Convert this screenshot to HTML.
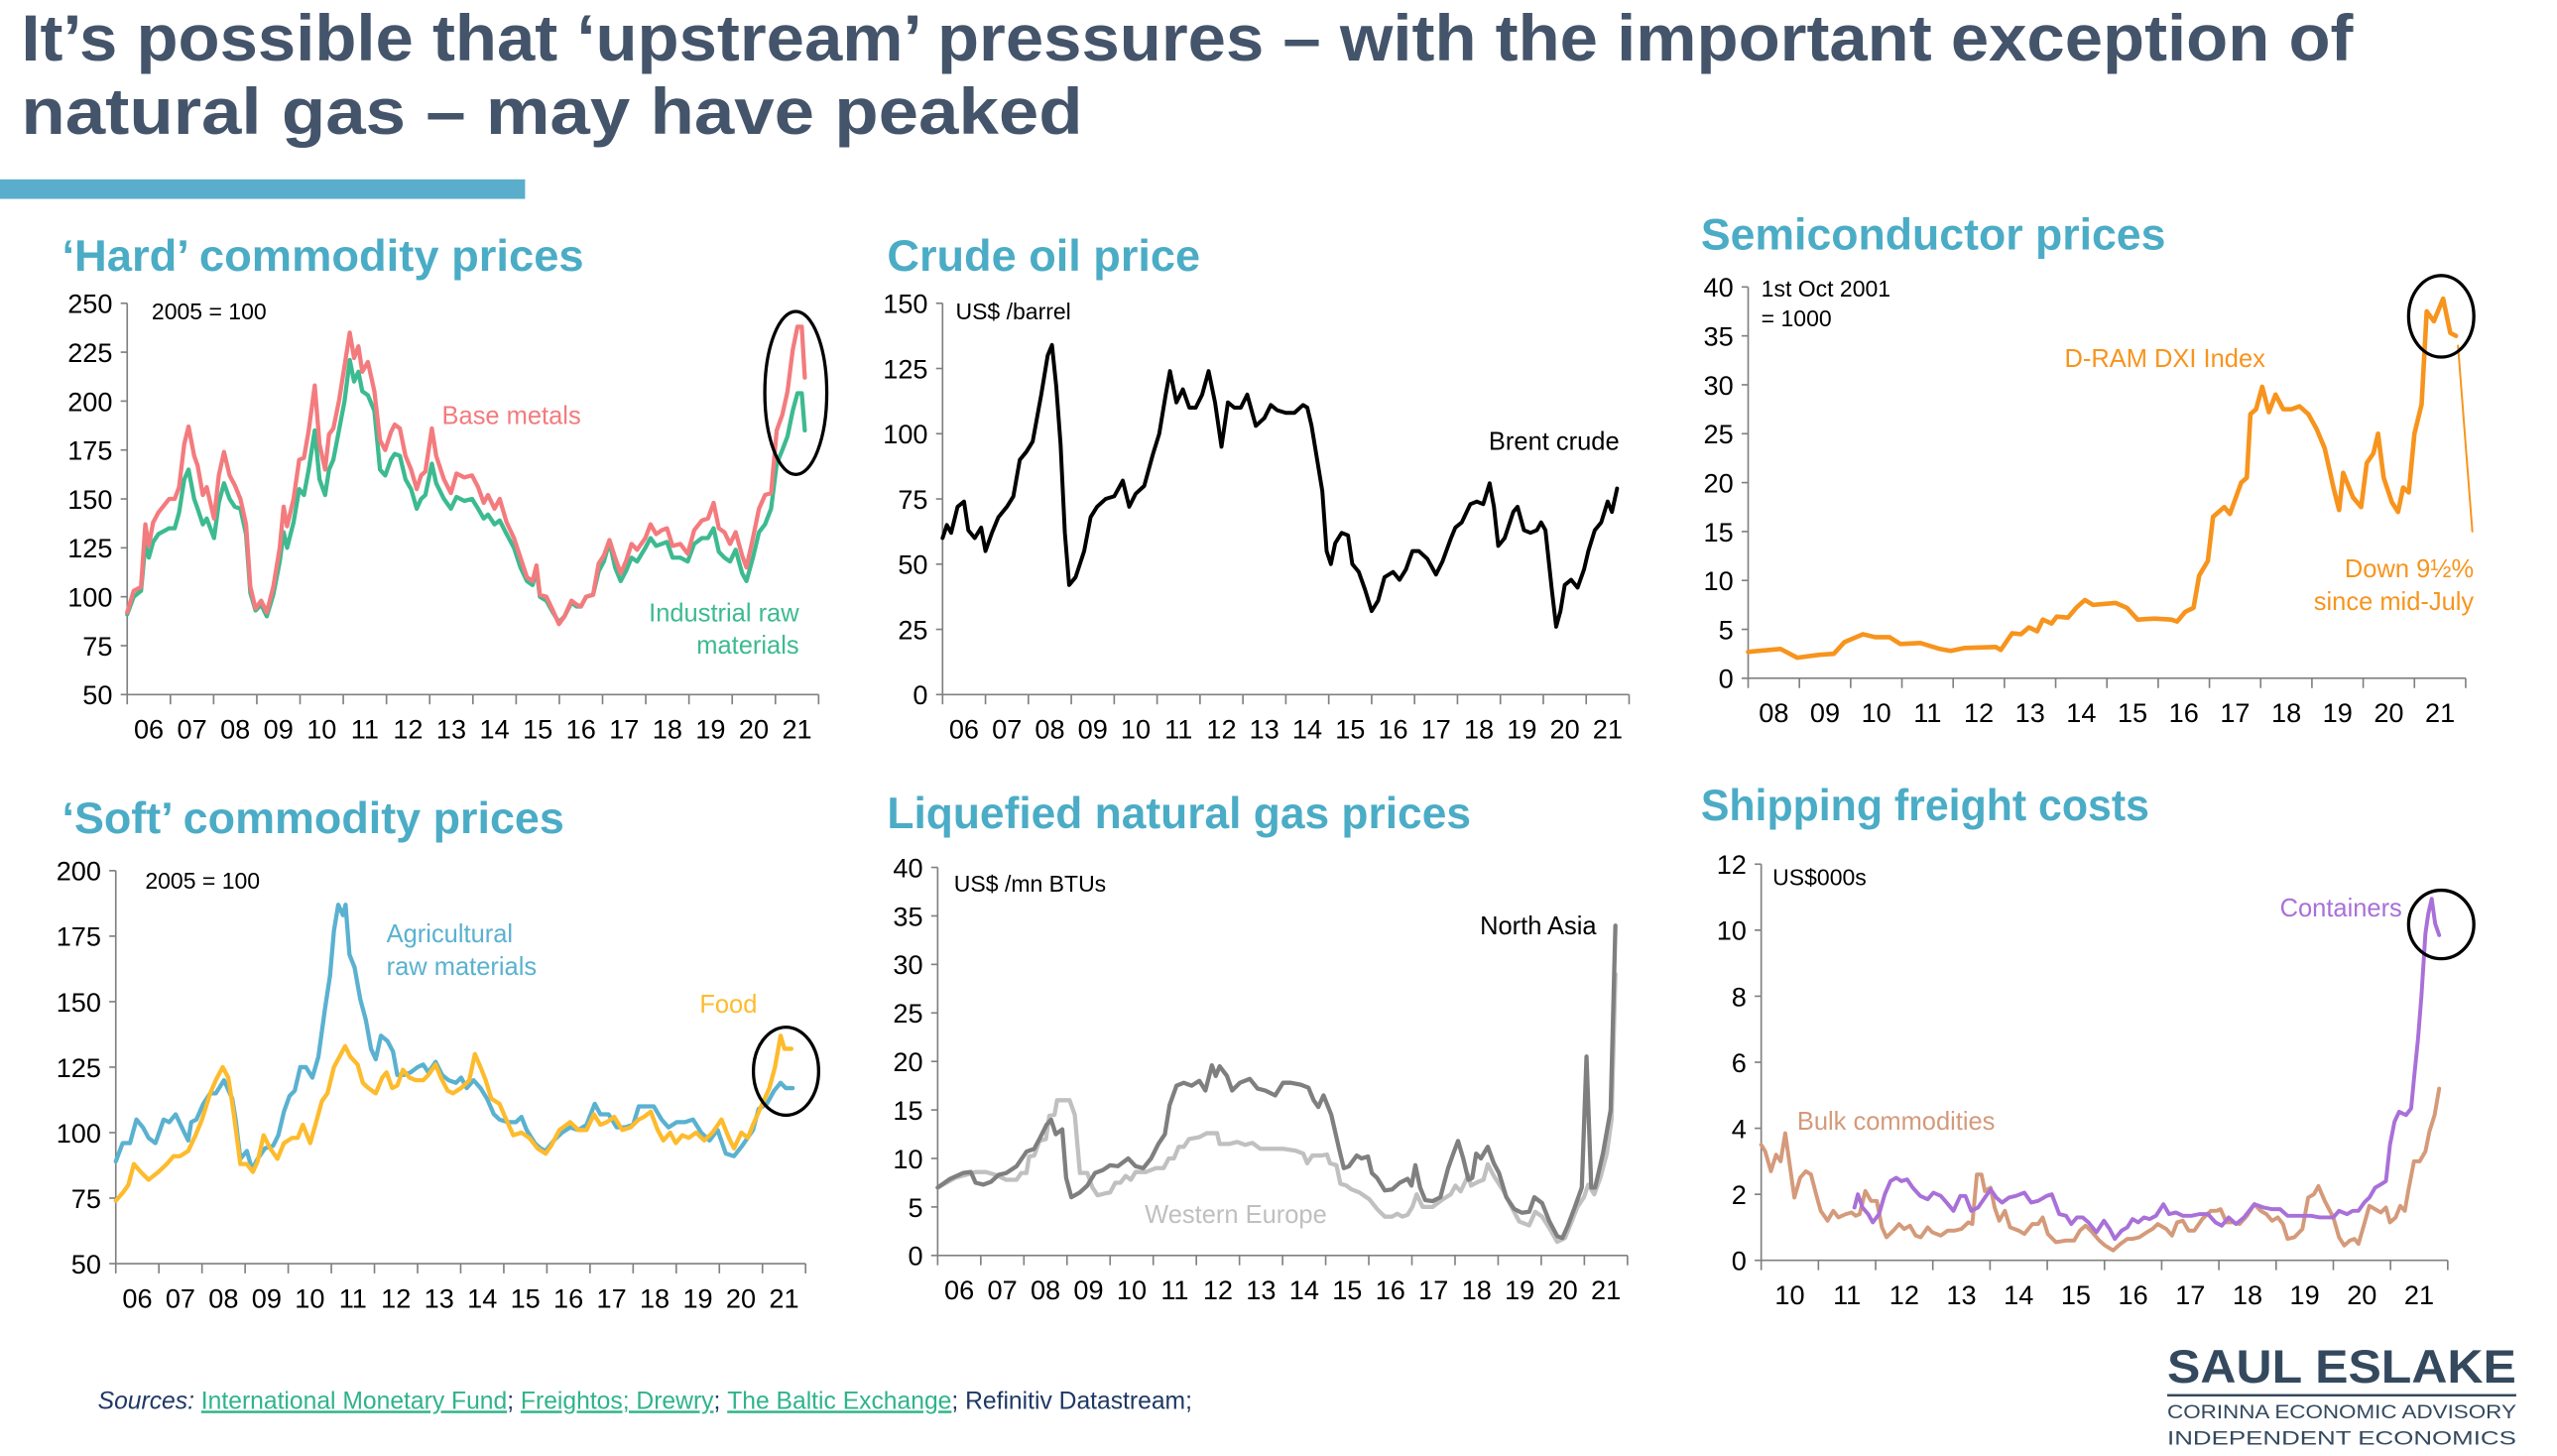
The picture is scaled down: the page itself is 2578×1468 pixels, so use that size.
<!DOCTYPE html>
<html><head><meta charset="utf-8">
<style>
html,body{margin:0;padding:0;background:#fff;}
svg{display:block;font-family:"Liberation Sans",sans-serif;}
</style></head>
<body>
<svg id="root" width="2578" height="1468" viewBox="0 0 1568 893" preserveAspectRatio="none" xmlns="http://www.w3.org/2000/svg">
<rect x="0" y="0" width="1568" height="893" fill="#fff"/>
<text x="13" y="37" font-size="40" font-weight="bold" fill="#44546a" textLength="1430" lengthAdjust="spacingAndGlyphs">It’s possible that ‘upstream’ pressures – with the important exception of</text>
<text x="13" y="82" font-size="40" font-weight="bold" fill="#44546a" textLength="651" lengthAdjust="spacingAndGlyphs">natural gas – may have peaked</text>
<rect x="0" y="110" width="322" height="12" fill="#5aaecb"/>

<text x="38" y="166" font-size="27" font-weight="bold" fill="#4bacc6" textLength="320" lengthAdjust="spacingAndGlyphs">‘Hard’ commodity prices</text>
<text x="544" y="166" font-size="27" font-weight="bold" fill="#4bacc6" textLength="192" lengthAdjust="spacingAndGlyphs">Crude oil price</text>
<text x="1043" y="153" font-size="27" font-weight="bold" fill="#4bacc6" textLength="285" lengthAdjust="spacingAndGlyphs">Semiconductor prices</text>
<text x="38" y="511" font-size="27" font-weight="bold" fill="#4bacc6" textLength="308" lengthAdjust="spacingAndGlyphs">‘Soft’ commodity prices</text>
<text x="544" y="508" font-size="27" font-weight="bold" fill="#4bacc6" textLength="358" lengthAdjust="spacingAndGlyphs">Liquefied natural gas prices</text>
<text x="1043" y="503" font-size="27" font-weight="bold" fill="#4bacc6" textLength="275" lengthAdjust="spacingAndGlyphs">Shipping freight costs</text>

<g id="charts"></g>

<g font-size="15.5">
<text x="93" y="196" font-size="14" fill="#000">2005 = 100</text>
<text x="271" y="260" fill="#f37b7e">Base metals</text>
<text x="490" y="381" text-anchor="end" fill="#3dba90">Industrial raw</text>
<text x="490" y="401" text-anchor="end" fill="#3dba90">materials</text>
<text x="586" y="196" font-size="14" fill="#000">US$ /barrel</text>
<text x="993" y="276" text-anchor="end" fill="#000">Brent crude</text>
<text x="1080" y="182" font-size="14" fill="#000">1st Oct 2001</text>
<text x="1080" y="200" font-size="14" fill="#000">= 1000</text>
<text x="1266" y="225" fill="#f7941d">D-RAM DXI Index</text>
<text x="1517" y="354" text-anchor="end" fill="#f7941d">Down 9½%</text>
<text x="1517" y="374" text-anchor="end" fill="#f7941d">since mid-July</text>
<text x="89" y="545" font-size="14" fill="#000">2005 = 100</text>
<text x="237" y="578" fill="#5ab1d0">Agricultural</text>
<text x="237" y="598" fill="#5ab1d0">raw materials</text>
<text x="429" y="621" fill="#fdbb2d">Food</text>
<text x="585" y="547" font-size="14" fill="#000">US$ /mn BTUs</text>
<text x="979" y="573" text-anchor="end" fill="#000">North Asia</text>
<text x="702" y="750" fill="#bfbfbf">Western Europe</text>
<text x="1087" y="543" font-size="14" fill="#000">US$000s</text>
<text x="1473" y="562" text-anchor="end" fill="#a970d8">Containers</text>
<text x="1102" y="693" fill="#d49a7a">Bulk commodities</text>
</g>

<g fill="none" stroke="#000" stroke-width="2">
<ellipse cx="488" cy="241" rx="19" ry="50"/>
<ellipse cx="1497" cy="194" rx="20" ry="25"/>
<ellipse cx="482" cy="657" rx="20" ry="27"/>
<ellipse cx="1497" cy="567" rx="20" ry="21"/>
</g>

<text x="60" y="864" font-size="15" fill="#1f3864"><tspan font-style="italic">Sources: </tspan><tspan fill="#2fb38a" text-decoration="underline">International Monetary Fund</tspan>; <tspan fill="#2fb38a" text-decoration="underline">Freightos; Drewry</tspan>; <tspan fill="#2fb38a" text-decoration="underline">The Baltic Exchange</tspan>;  Refinitiv Datastream;</text>

<g fill="#34495e">
<text x="1329" y="848" font-size="29" font-weight="bold" textLength="214" lengthAdjust="spacingAndGlyphs">SAUL ESLAKE</text>
<rect x="1329" y="855" width="214" height="1.5"/>
<text x="1329" y="870" font-size="12" textLength="214" lengthAdjust="spacingAndGlyphs">CORINNA ECONOMIC ADVISORY</text>
<text x="1329" y="886" font-size="12" textLength="214" lengthAdjust="spacingAndGlyphs">INDEPENDENT ECONOMICS</text>
</g>
</svg>
<script>
// ---------- DATA ----------
const hardDates = [2006.0,2006.15,2006.32,2006.42,2006.5,2006.6,2006.72,2006.97,2007.1,2007.2,2007.32,2007.42,2007.55,2007.63,2007.75,2007.84,2008.01,2008.12,2008.24,2008.37,2008.49,2008.62,2008.75,2008.85,2008.97,2009.1,2009.23,2009.38,2009.53,2009.62,2009.7,2009.85,2009.98,2010.09,2010.2,2010.34,2010.45,2010.58,2010.67,2010.77,2010.9,2011.03,2011.15,2011.25,2011.35,2011.44,2011.57,2011.72,2011.85,2011.97,2012.1,2012.19,2012.31,2012.44,2012.57,2012.7,2012.8,2012.9,2013.05,2013.15,2013.33,2013.49,2013.62,2013.8,2013.98,2014.12,2014.25,2014.35,2014.5,2014.62,2014.78,2014.95,2015.1,2015.25,2015.38,2015.47,2015.55,2015.7,2015.85,2015.99,2016.12,2016.28,2016.4,2016.5,2016.62,2016.78,2016.91,2017.03,2017.16,2017.29,2017.42,2017.54,2017.67,2017.8,2017.99,2018.11,2018.24,2018.37,2018.49,2018.62,2018.8,2018.97,2019.12,2019.3,2019.44,2019.57,2019.69,2019.82,2019.95,2020.08,2020.23,2020.33,2020.48,2020.62,2020.76,2020.9,2021.03,2021.16,2021.28,2021.4,2021.51,2021.61,2021.68];
const hardBase = [92,103,105,137,126,138,143,150,150,156,178,187,172,167,152,156,140,162,174,162,157,150,137,105,94,98,92,105,125,146,136,150,170,171,185,208,178,165,183,186,200,218,235,222,228,215,220,205,180,175,184,188,186,172,165,155,162,164,186,172,160,153,163,161,162,156,148,152,145,150,138,130,120,110,108,116,101,100,93,86,90,98,96,95,100,101,117,121,129,120,112,118,127,124,130,137,132,134,135,126,127,122,134,139,140,148,135,133,127,133,121,115,130,145,152,153,185,193,205,226,238,238,212];
const hardInd = [91,100,103,127,120,128,132,135,135,143,160,165,150,145,137,140,130,148,158,150,146,145,132,102,93,96,90,101,118,133,125,138,155,152,165,185,160,152,165,170,185,200,221,210,215,205,203,195,165,162,170,173,172,160,155,145,150,152,168,158,150,145,151,149,150,145,140,142,137,139,132,125,115,108,106,114,100,98,92,87,90,97,95,95,100,101,113,118,128,115,108,113,120,118,125,130,126,127,128,120,120,118,127,130,130,135,123,120,118,124,112,108,120,133,137,145,168,175,182,195,204,204,185];

const crudeDates = [2006.0,2006.1,2006.2,2006.35,2006.5,2006.6,2006.75,2006.9,2007.0,2007.15,2007.3,2007.5,2007.65,2007.8,2007.95,2008.1,2008.3,2008.45,2008.55,2008.65,2008.75,2008.85,2008.95,2009.1,2009.3,2009.45,2009.6,2009.8,2010.0,2010.2,2010.35,2010.5,2010.7,2010.9,2011.05,2011.2,2011.3,2011.45,2011.6,2011.75,2011.9,2012.05,2012.2,2012.35,2012.5,2012.65,2012.8,2012.95,2013.1,2013.3,2013.5,2013.65,2013.8,2014.0,2014.2,2014.4,2014.5,2014.6,2014.75,2014.85,2014.95,2015.05,2015.15,2015.3,2015.45,2015.55,2015.7,2015.85,2016.0,2016.15,2016.3,2016.5,2016.65,2016.8,2016.95,2017.1,2017.3,2017.5,2017.65,2017.85,2017.95,2018.1,2018.3,2018.45,2018.6,2018.75,2018.85,2018.95,2019.1,2019.3,2019.4,2019.55,2019.7,2019.85,2019.95,2020.05,2020.2,2020.3,2020.4,2020.5,2020.65,2020.8,2020.95,2021.05,2021.2,2021.35,2021.5,2021.6,2021.72];
const crudeBrent = [60,65,62,72,74,63,60,64,55,62,68,72,76,90,93,97,115,130,134,118,96,62,42,45,55,68,72,75,76,82,72,77,80,92,100,115,124,112,117,110,110,115,124,112,95,112,110,110,115,103,106,111,109,108,108,111,110,103,88,78,55,50,58,62,61,50,47,40,32,36,45,47,44,48,55,55,52,46,51,60,64,66,73,74,73,81,72,57,60,70,72,63,62,63,66,63,40,26,32,42,44,41,48,55,63,66,74,70,79];

const semiDates = [0,0.63,0.96,1.39,1.67,1.88,2.24,2.48,2.76,2.97,3.36,3.74,3.95,4.23,4.83,4.93,5.15,5.32,5.48,5.64,5.75,5.92,6.02,6.24,6.4,6.57,6.73,7.17,7.39,7.6,7.93,8.26,8.37,8.53,8.69,8.8,8.97,9.07,9.29,9.4,9.62,9.73,9.8,9.91,10.03,10.16,10.29,10.44,10.6,10.76,10.93,11.09,11.25,11.42,11.53,11.61,11.8,11.96,12.07,12.2,12.29,12.4,12.56,12.68,12.78,12.89,13.0,13.14,13.24,13.38,13.56,13.7,13.81];
const semiDram = [2.7,3.0,2.1,2.4,2.5,3.7,4.5,4.2,4.2,3.5,3.6,3.0,2.8,3.1,3.2,2.9,4.6,4.5,5.2,4.8,6.0,5.6,6.3,6.2,7.2,8.0,7.5,7.7,7.2,6.0,6.1,6.0,5.8,6.8,7.2,10.5,12,16.5,17.5,16.8,20,20.5,27,27.5,29.8,27.2,29,27.5,27.5,27.8,27,25.5,23.5,19.5,17.2,21,18.5,17.5,22,23,25,20.5,18,17,19.5,19,25,28,37.5,36.5,38.8,35.3,35];
const semiTrendDates = [13.85,14.13];
const semiTrendVals = [34,15];

const softDatesAgri = [0,0.16,0.33,0.48,0.63,0.76,0.92,1.11,1.24,1.39,1.56,1.68,1.75,1.87,2.03,2.19,2.32,2.51,2.7,2.78,2.89,3.04,3.16,3.29,3.46,3.65,3.77,3.9,4.03,4.15,4.28,4.41,4.56,4.7,4.85,4.97,5.06,5.16,5.27,5.33,5.42,5.54,5.67,5.8,5.92,6.03,6.15,6.3,6.43,6.53,6.68,6.84,7.0,7.13,7.25,7.42,7.57,7.72,7.89,8.01,8.14,8.3,8.46,8.61,8.77,8.9,9.09,9.28,9.41,9.53,9.72,9.85,9.97,10.16,10.35,10.54,10.73,10.92,11.11,11.24,11.43,11.62,11.81,12.0,12.13,12.32,12.48,12.66,12.82,13.01,13.2,13.39,13.58,13.77,13.96,14.15,14.34,14.53,14.78,14.91,15.1,15.27,15.42,15.54,15.7];
const softAgri = [89,96,96,105,102,98,96,105,104,107,101,97,104,105,111,115,115,120,113,105,90,93,86,90,94,95,99,108,114,116,125,125,121,129,147,160,177,187,183,187,168,163,151,143,132,128,137,135,131,122,122,123,125,126,123,127,122,120,119,121,117,120,117,113,107,105,104,104,106,101,96,94,93,97,100,102,101,103,111,107,107,102,102,103,110,110,110,105,102,104,104,105,100,97,101,92,91,95,101,109,111,116,119,117,117];
const softDatesFood = [0,0.16,0.29,0.42,0.58,0.76,0.99,1.18,1.34,1.49,1.68,1.85,2.0,2.19,2.32,2.48,2.61,2.73,2.89,3.04,3.18,3.29,3.43,3.58,3.75,3.9,4.09,4.22,4.34,4.51,4.63,4.78,4.91,5.06,5.19,5.32,5.44,5.61,5.73,5.86,6.03,6.18,6.28,6.41,6.53,6.66,6.81,6.96,7.13,7.25,7.42,7.54,7.7,7.82,8.01,8.2,8.33,8.46,8.58,8.71,8.9,9.03,9.22,9.41,9.59,9.78,9.97,10.1,10.29,10.54,10.73,10.92,11.09,11.24,11.39,11.56,11.75,11.94,12.13,12.25,12.41,12.57,12.7,12.86,12.99,13.14,13.29,13.46,13.65,13.84,14.05,14.22,14.34,14.51,14.66,14.78,14.97,15.16,15.29,15.42,15.51,15.67];
const softFood = [74,77,80,88,85,82,85,88,91,91,93,99,105,115,120,125,121,108,88,88,85,89,99,94,90,96,98,98,103,96,103,112,115,125,129,133,129,126,119,117,115,121,123,117,118,124,121,120,120,122,126,121,116,115,117,120,130,125,120,113,111,106,99,100,98,94,92,95,101,104,101,101,107,103,104,106,101,102,105,106,108,101,97,100,96,99,98,100,97,100,105,98,94,100,98,103,110,117,125,137,132,132];

const lngDatesNA = [0,0.29,0.59,0.77,0.88,1.06,1.24,1.41,1.59,1.83,2.06,2.24,2.36,2.53,2.63,2.74,2.89,2.98,3.1,3.3,3.47,3.65,3.83,4.0,4.18,4.42,4.59,4.77,4.95,5.12,5.27,5.38,5.54,5.71,5.89,6.07,6.21,6.36,6.45,6.54,6.71,6.83,7.01,7.24,7.42,7.6,7.83,8.01,8.19,8.42,8.6,8.72,8.83,8.95,9.13,9.31,9.42,9.54,9.72,9.83,9.98,10.07,10.19,10.37,10.54,10.72,10.9,10.99,11.08,11.19,11.31,11.48,11.66,11.84,11.96,12.07,12.19,12.31,12.4,12.49,12.6,12.76,12.9,13.02,13.19,13.37,13.55,13.72,13.84,14.02,14.19,14.37,14.49,14.61,14.78,14.94,15.05,15.16,15.25,15.43,15.61,15.72];
const lngNorthAsia = [7,7.9,8.5,8.6,7.5,7.3,7.6,8.3,8.5,9.2,10.7,11,12,13.5,14,12.5,13,8,6,6.5,7.2,8.5,8.8,9.3,9.2,10,9.2,9.0,10,11.5,12.5,15.5,17.5,17.8,17.5,18,17,19.6,18.5,19.5,18.5,17,17.8,18.2,17.2,17,16.5,17.8,17.8,17.6,17.3,16,15.3,16.5,14.5,11,9.0,9.2,10.3,10,10.2,8.5,8.0,6.7,6.8,7.5,7.9,7.2,9.3,7,5.7,5.6,6.0,9,10.5,11.8,10,7.8,8,10.5,10,11.2,9.5,8.5,6,4.8,4.4,4.5,6,5.4,3.5,2,1.8,3,5,7,20.5,7,7,10.5,15,34];
const lngDatesWE = [0,0.41,0.88,1.12,1.35,1.59,1.83,1.94,2.06,2.12,2.24,2.36,2.51,2.59,2.71,2.77,3.06,3.18,3.3,3.47,3.59,3.71,3.89,4.0,4.12,4.24,4.36,4.48,4.59,4.83,5.06,5.24,5.36,5.48,5.59,5.71,5.83,6.07,6.24,6.48,6.54,6.77,6.95,7.13,7.3,7.48,7.71,8.01,8.3,8.48,8.57,8.69,8.89,9.03,9.1,9.25,9.34,9.48,9.6,9.78,10.01,10.19,10.37,10.54,10.66,10.78,10.9,11.01,11.11,11.25,11.48,11.72,11.9,12.01,12.13,12.31,12.37,12.54,12.66,12.76,12.9,13.13,13.31,13.49,13.72,13.86,14.02,14.19,14.37,14.55,14.66,14.84,14.99,15.09,15.23,15.37,15.52,15.63,15.72];
const lngWestEurope = [7,8,8.6,8.6,8.3,7.8,7.8,8.5,8.5,10.2,10.3,11.8,12,14.4,14.5,16,16,14.5,8.5,8.5,7,6.2,6.4,6.5,7.5,7.5,8.2,7.8,8.6,8.6,9,9,10,10,11.2,11.2,12,12.2,12.6,12.6,11.5,11.5,11.7,11.4,11.6,11,11,11,10.8,10.5,9.5,10.3,10.3,10.4,9.5,9.3,7.4,7.2,6.8,6.5,5.8,4.8,4.0,4.0,4.3,4,4.2,5,6.3,5.0,5.0,5.8,6.3,7.2,6.6,8.3,7.2,7.6,7.8,9.4,8.2,6.6,5,3.5,3.1,4.5,4,2.8,1.4,1.8,3,5,6,7.3,6.3,8,10.5,14,29];

const shipDatesBulk = [0,0.07,0.17,0.26,0.34,0.42,0.49,0.58,0.68,0.78,0.87,0.96,1.04,1.16,1.26,1.35,1.48,1.58,1.65,1.72,1.82,1.92,2.02,2.11,2.19,2.31,2.41,2.5,2.6,2.7,2.79,2.91,2.99,3.14,3.26,3.38,3.5,3.62,3.69,3.77,3.85,3.91,4.01,4.08,4.16,4.26,4.35,4.5,4.6,4.74,4.84,4.92,5.01,5.15,5.33,5.47,5.57,5.67,5.76,5.91,6.01,6.15,6.28,6.4,6.49,6.61,6.74,6.84,6.93,7.08,7.18,7.27,7.37,7.47,7.57,7.71,7.86,7.96,8.03,8.13,8.25,8.36,8.49,8.62,8.73,8.83,8.93,9.03,9.12,9.2,9.32,9.46,9.56,9.66,9.74,9.85,10.0,10.1,10.19,10.29,10.37,10.44,10.54,10.63,10.73,10.83,10.92,10.99,11.09,11.17,11.25,11.31,11.41,11.51,11.61,11.68,11.77,11.85];
const shipBulk = [3.5,3.3,2.7,3.2,3.0,3.85,3.0,1.9,2.5,2.7,2.6,2.0,1.5,1.2,1.5,1.3,1.4,1.45,1.35,1.4,2.1,1.8,1.8,1.0,0.7,0.9,1.1,0.95,1.05,0.75,0.7,1.0,0.85,0.75,0.9,0.9,0.95,1.15,1.1,2.6,2.6,2.1,2.2,1.6,1.2,1.5,1.0,0.9,0.8,1.1,1.1,1.3,0.8,0.55,0.6,0.6,0.9,1.05,0.9,0.6,0.45,0.3,0.5,0.65,0.65,0.7,0.85,0.95,1.1,0.95,0.75,1.15,1.2,0.9,0.9,1.25,1.5,1.5,1.55,1.15,1.15,1.1,1.35,1.7,1.5,1.4,1.2,1.3,1.1,0.65,0.7,0.95,1.9,2.0,2.25,1.8,1.3,0.7,0.45,0.6,0.65,0.5,1.1,1.65,1.55,1.45,1.6,1.15,1.3,1.65,1.5,2.1,3.0,3.0,3.3,3.9,4.4,5.2];
const shipDatesCont = [1.63,1.69,1.77,1.87,1.95,2.06,2.16,2.26,2.36,2.45,2.55,2.65,2.78,2.91,3.01,3.14,3.24,3.36,3.48,3.57,3.67,3.79,3.87,4.01,4.11,4.21,4.33,4.45,4.6,4.72,4.84,4.99,5.08,5.21,5.33,5.42,5.52,5.62,5.72,5.86,5.99,6.09,6.18,6.3,6.4,6.49,6.59,6.69,6.79,6.9,7.03,7.13,7.25,7.37,7.52,7.66,7.81,7.94,8.05,8.17,8.3,8.44,8.62,8.78,8.93,9.07,9.2,9.42,9.61,9.76,9.88,10.0,10.1,10.24,10.34,10.44,10.54,10.63,10.73,10.83,10.92,10.99,11.07,11.15,11.27,11.36,11.41,11.48,11.54,11.61,11.66,11.72,11.78,11.85];
const shipCont = [1.6,2.0,1.6,1.4,1.15,1.4,2.0,2.4,2.5,2.4,2.45,2.2,1.95,1.85,2.05,1.95,1.75,1.5,1.95,1.95,1.5,1.6,1.8,2.15,1.9,1.75,1.9,1.95,2.05,1.75,1.8,1.95,2.0,1.4,1.35,1.1,1.3,1.3,1.15,0.85,1.2,0.95,0.65,0.9,1.0,1.25,1.15,1.3,1.25,1.35,1.7,1.4,1.45,1.35,1.35,1.4,1.4,1.15,1.05,1.3,1.1,1.3,1.7,1.6,1.55,1.55,1.35,1.35,1.35,1.3,1.3,1.3,1.5,1.4,1.5,1.5,1.75,1.9,2.2,2.3,2.4,3.5,4.2,4.5,4.4,4.6,5.5,6.7,8.0,9.9,10.5,10.95,10.2,9.85];

const hardYTicks = [50,75,100,125,150,175,200,225,250];
const crudeYTicks = [0,25,50,75,100,125,150];
const semiYTicks = [0,5,10,15,20,25,30,35,40];
const softYTicks = [50,75,100,125,150,175,200];
const lngYTicks = [0,5,10,15,20,25,30,35,40];
const shipYTicks = [0,2,4,6,8,10,12];
const yearLabels06 = ["06","07","08","09","10","11","12","13","14","15","16","17","18","19","20","21"];
const yearLabels08 = ["08","09","10","11","12","13","14","15","16","17","18","19","20","21"];
const yearLabels10 = ["10","11","12","13","14","15","16","17","18","19","20","21"];

// ---------- DRAW ----------
const NS = "http://www.w3.org/2000/svg";
const root = document.getElementById("charts");
function mk(tag, attrs, parent) {
  const e = document.createElementNS(NS, tag);
  for (const k in attrs) e.setAttribute(k, attrs[k]);
  parent.appendChild(e);
  return e;
}
function chart(name, box, yTicks, xLabels) {
  const g = mk("g", {}, root);
  
  
  const nYears = xLabels.length;
  const yMin = yTicks[0], yMax = yTicks[yTicks.length - 1];
  const sx = t => box.x0 + (t - box.yStart) / nYears * (box.x1 - box.x0);
  const sy = v => box.yb - (v - yMin) / (yMax - yMin) * (box.yb - box.yt);
  const ax = mk("path", {d:`M${box.x0},${box.yt}V${box.yb}H${box.x1}`, fill:"none", stroke:"#808080", "stroke-width":1}, g);
  
  
  yTicks.forEach(v => {
    mk("line", {x1:box.x0-4, x2:box.x0, y1:sy(v), y2:sy(v), stroke:"#808080"}, g);
    const t = mk("text", {x:box.x0-9, y:sy(v)+6, "text-anchor":"end", "font-size":16.5, fill:"#000"}, g);
    
    
    t.textContent = v;
  });
  for (let i = 0; i <= nYears; i++) {
    const x = sx(box.yStart + i);
    mk("line", {x1:x, x2:x, y1:box.yb, y2:box.yb+6, stroke:"#808080"}, g);
  }
  xLabels.forEach((lab, i) => {
    const t = mk("text", {x:sx(box.yStart + i + 0.5), y:box.yb+27, "text-anchor":"middle", "font-size":16.5, fill:"#000"}, g);
    
    
    t.textContent = lab;
  });
  return {g, sx, sy};
}
function series(c, name, base, dates, vals, color, w) {
  const n = Math.min(dates.length, vals.length);
  let d = "";
  for (let i = 0; i < n; i++) d += (i ? "L" : "M") + c.sx(base + dates[i]).toFixed(2) + "," + c.sy(vals[i]).toFixed(2);
  const p = mk("path", {d, fill:"none", stroke:color, "stroke-width":w, "stroke-linejoin":"round", "stroke-linecap":"round"}, c.g);
  
  
}

const cHard = chart("hard-commodity-chart", {x0:78, x1:502, yt:186, yb:426, yStart:2006}, hardYTicks, yearLabels06);
series(cHard, "industrial-raw-line", 0, hardDates, hardInd, "#3dba90", 2.6);
series(cHard, "base-metals-line", 0, hardDates, hardBase, "#f37b7e", 2.6);

const cCrude = chart("crude-oil-chart", {x0:578, x1:999, yt:186, yb:426, yStart:2006}, crudeYTicks, yearLabels06);
series(cCrude, "brent-line", 0, crudeDates, crudeBrent, "#000", 2.4);

const cSemi = chart("semiconductor-chart", {x0:1072, x1:1512, yt:176, yb:416, yStart:2008}, semiYTicks, yearLabels08);
series(cSemi, "dram-line", 2008, semiDates, semiDram, "#f7941d", 2.8);
series(cSemi, "dram-trend-line", 2008, semiTrendDates, semiTrendVals, "#f7941d", 1.2);

const cSoft = chart("soft-commodity-chart", {x0:71, x1:494, yt:534, yb:775, yStart:2006}, softYTicks, yearLabels06);
series(cSoft, "agri-raw-line", 2006, softDatesAgri, softAgri, "#5ab1d0", 2.6);
series(cSoft, "food-line", 2006, softDatesFood, softFood, "#fdbb2d", 2.6);

const cLng = chart("lng-chart", {x0:575, x1:998, yt:532, yb:770, yStart:2006}, lngYTicks, yearLabels06);
series(cLng, "western-europe-line", 2006, lngDatesWE, lngWestEurope, "#c0c0c0", 2.6);
series(cLng, "north-asia-line", 2006, lngDatesNA, lngNorthAsia, "#7f7f7f", 2.6);

const cShip = chart("shipping-chart", {x0:1080, x1:1501, yt:530, yb:773, yStart:2010}, shipYTicks, yearLabels10);
series(cShip, "bulk-line", 2010, shipDatesBulk, shipBulk, "#d49a7a", 2.4);
series(cShip, "containers-line", 2010, shipDatesCont, shipCont, "#a970d8", 2.4);
</script>
</body></html>
